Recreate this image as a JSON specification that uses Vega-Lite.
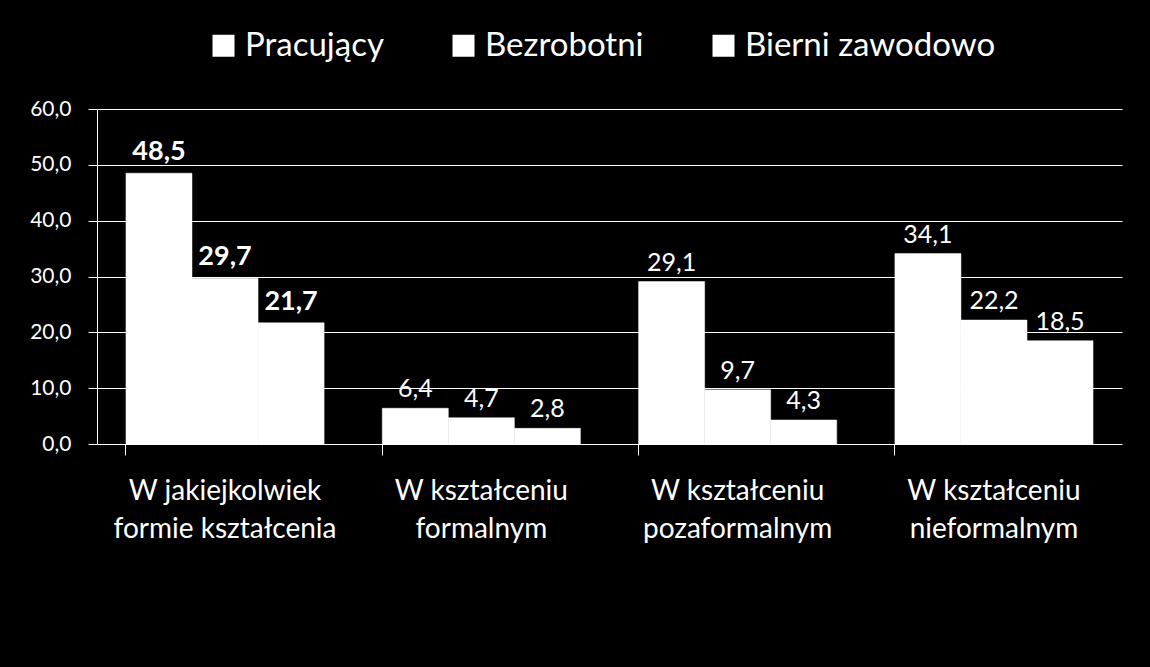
{
  "$schema": "https://vega.github.io/schema/vega-lite/v6.json",
  "width": 1025,
  "height": 335,
  "autosize": {"type": "none"},
  "padding": {"left": 97, "top": 109, "right": 28, "bottom": 223},
  "background": "#000000",
  "config": {
    "view": {"stroke": null},
    "font": "Lato",
    "locale": {"number": {"decimal": ",", "thousands": " ", "grouping": [3], "currency": ["", " zł"]}}
  },
  "data": {
    "values": [
      {"kategoria": "W jakiejkolwiek formie kształcenia", "grupa": "Pracujący", "wartosc": 48.5},
      {"kategoria": "W jakiejkolwiek formie kształcenia", "grupa": "Bezrobotni", "wartosc": 29.7},
      {"kategoria": "W jakiejkolwiek formie kształcenia", "grupa": "Bierni zawodowo", "wartosc": 21.7},
      {"kategoria": "W kształceniu formalnym", "grupa": "Pracujący", "wartosc": 6.4},
      {"kategoria": "W kształceniu formalnym", "grupa": "Bezrobotni", "wartosc": 4.7},
      {"kategoria": "W kształceniu formalnym", "grupa": "Bierni zawodowo", "wartosc": 2.8},
      {"kategoria": "W kształceniu pozaformalnym", "grupa": "Pracujący", "wartosc": 29.1},
      {"kategoria": "W kształceniu pozaformalnym", "grupa": "Bezrobotni", "wartosc": 9.7},
      {"kategoria": "W kształceniu pozaformalnym", "grupa": "Bierni zawodowo", "wartosc": 4.3},
      {"kategoria": "W kształceniu nieformalnym", "grupa": "Pracujący", "wartosc": 34.1},
      {"kategoria": "W kształceniu nieformalnym", "grupa": "Bezrobotni", "wartosc": 22.2},
      {"kategoria": "W kształceniu nieformalnym", "grupa": "Bierni zawodowo", "wartosc": 18.5}
    ]
  },
  "encoding": {
    "x": {
      "field": "kategoria",
      "type": "nominal",
      "sort": null,
      "scale": {"paddingInner": 0.227, "paddingOuter": 0.113},
      "axis": {
        "title": null,
        "bandPosition": 0,
        "domain": false,
        "ticks": true,
        "tickSize": 11,
        "tickColor": "#ffffff",
        "tickWidth": 1,
        "labelAngle": 0,
        "labelColor": "#ffffff",
        "labelFontSize": 28,
        "labelFont": "Lato",
        "labelPadding": 22,
        "labelLineHeight": 38,
        "labelBaseline": "top",
        "labelLimit": 400,
        "labelExpr": "split(replace(replace(datum.label, 'kształceniu ', 'kształceniu|'), 'jakiejkolwiek ', 'jakiejkolwiek|'), '|')"
      }
    },
    "xOffset": {"field": "grupa", "type": "nominal", "sort": ["Pracujący", "Bezrobotni", "Bierni zawodowo"], "scale": {"paddingInner": 0, "paddingOuter": 0}},
    "y": {
      "field": "wartosc",
      "type": "quantitative",
      "scale": {"domain": [0, 60], "nice": false},
      "axis": {
        "title": null,
        "values": [0, 10, 20, 30, 40, 50, 60],
        "format": ".1f",
        "grid": true,
        "gridColor": "#ffffff",
        "gridWidth": 1,
        "gridOpacity": 1,
        "domain": true,
        "domainColor": "#ffffff",
        "ticks": true,
        "tickSize": 9,
        "tickColor": "#ffffff",
        "labelColor": "#ffffff",
        "labelFontSize": 21,
        "labelFont": "Lato",
        "labelPadding": 17
      }
    }
  },
  "layer": [
    {
      "mark": {"type": "bar", "fill": "#ffffff", "stroke": "#ffffff", "strokeWidth": 0.5},
      "encoding": {
        "color": {
          "field": "grupa",
          "type": "nominal",
          "sort": ["Pracujący", "Bezrobotni", "Bierni zawodowo"],
          "scale": {"range": ["#ffffff", "#ffffff", "#ffffff"]},
          "legend": {
            "title": null,
            "orient": "none",
            "direction": "horizontal",
            "legendX": 110,
            "legendY": -80,
            "symbolType": "square",
            "symbolSize": 420,
            "symbolFillColor": "#ffffff",
            "symbolStrokeColor": "#ffffff",
            "symbolOpacity": 1,
            "labelColor": "#ffffff",
            "labelFontSize": 33,
            "labelFont": "Lato",
            "labelOffset": 5,
            "columnPadding": 63,
            "labelLimit": 400
          }
        }
      }
    },
    {
      "transform": [{"filter": "datum.kategoria !== 'W jakiejkolwiek formie kształcenia'"}],
      "mark": {"type": "text", "color": "#ffffff", "baseline": "bottom", "dy": -6, "fontSize": 25},
      "encoding": {
        "text": {"field": "wartosc", "type": "quantitative", "format": ".1f"}
      }
    },
    {
      "transform": [{"filter": "datum.kategoria === 'W jakiejkolwiek formie kształcenia'"}],
      "mark": {"type": "text", "color": "#ffffff", "baseline": "bottom", "dy": -7, "fontSize": 27, "fontWeight": "bold"},
      "encoding": {
        "text": {"field": "wartosc", "type": "quantitative", "format": ".1f"}
      }
    }
  ]
}
